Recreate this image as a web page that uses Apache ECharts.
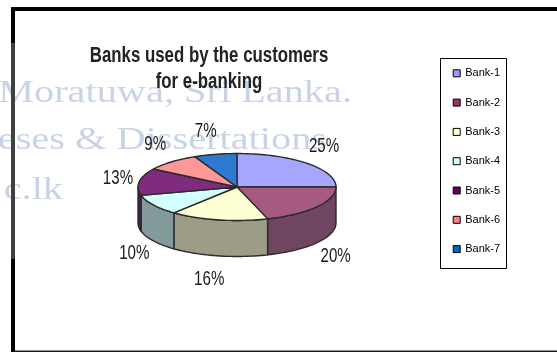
<!DOCTYPE html>
<html>
<head>
<meta charset="utf-8">
<script src="https://cdn.jsdelivr.net/npm/echarts@6/dist/echarts.min.js"></script>
<style>
  html, body { margin: 0; padding: 0; background: #ffffff; }
  #chart { width: 557px; height: 352px; }
</style>
</head>
<body>
<div id="chart"></div>
<script>
// Survey result: share of customers using each bank for e-banking (%)
const banks = ['Bank-1', 'Bank-2', 'Bank-3', 'Bank-4', 'Bank-5', 'Bank-6', 'Bank-7'];
const shares = [25, 20, 16, 10, 13, 9, 7];
const titleLines = ['Banks used by the customers', 'for e-banking'];
const watermarkLines = ['Moratuwa, Sri Lanka.', 'eses & Dissertations', 'c.lk'];

// Palette: flat legend swatches, lit top faces, shaded front walls
const legendColors = ['#9999FF', '#993366', '#FFFFCC', '#CCFFFF', '#660066', '#FF8080', '#0066CC'];
const topColors    = ['#A6A6FF', '#A65A82', '#FFFFD4', '#D4FFFF', '#7F2C80', '#FF9898', '#2E7AD0'];
const sideColors   = ['#6A6AB0', '#6F455F', '#9D9D87', '#839A9A', '#4F1C50', '#B06060', '#1E508A'];

const FONT = "'Liberation Sans',Arial,sans-serif";
const EDGE = '#2b2b2b';
// the chart lettering is a condensed sans
const CONDENSE = 0.72;

// Tilted pie: centre, ellipse radii, wall depth, label placement
const PIE = { cx: 237, cy: 187, rx: 99, ry: 33.5, depth: 36, labelRx: 114, labelPad: 6.4, labelRy: 57 };

const total = shares.reduce((a, b) => a + b, 0);
const startAngles = [];
{
  let acc = 0;
  shares.forEach(v => { startAngles.push(90 - acc / total * 360); acc += v; });
}

function ellipsePoint(deg, dy) {
  const r = deg * Math.PI / 180;
  return [PIE.cx + PIE.rx * Math.cos(r), PIE.cy - PIE.ry * Math.sin(r) + dy];
}
function arcPoints(a0, a1, dy) {
  const n = Math.max(2, Math.ceil(Math.abs(a1 - a0) / 2));
  const pts = [];
  for (let k = 0; k <= n; k++) pts.push(ellipsePoint(a0 + (a1 - a0) * k / n, dy));
  return pts;
}

function sliceRenderer(i) {
  return function (params, api) {
    const v = api.value(0);
    const a0 = startAngles[i];
    const a1 = a0 - v / total * 360;
    const children = [];
    // front wall: the part of the slice facing the viewer (lower half)
    const s = Math.min(a0, 0), e = Math.max(a1, -180);
    if (s > e) {
      const pts = arcPoints(s, e, 0).concat(arcPoints(e, s, PIE.depth));
      children.push({
        type: 'polygon', shape: { points: pts },
        style: { fill: sideColors[i], stroke: EDGE, lineWidth: 1.4, lineJoin: 'round' }
      });
    }
    // top face
    const face = [[PIE.cx, PIE.cy]].concat(arcPoints(a0, a1, 0));
    children.push({
      type: 'polygon', shape: { points: face },
      style: { fill: topColors[i], stroke: EDGE, lineWidth: 1.4, lineJoin: 'round' }
    });
    // percentage label outside the slice
    const mid = (a0 + a1) / 2 * Math.PI / 180;
    const c = Math.cos(mid), sn = Math.sin(mid);
    const lx = PIE.cx + PIE.labelRx * c + PIE.labelPad * Math.sign(c);
    let ly = PIE.cy - PIE.labelRy * sn;
    if (sn < 0) ly += PIE.depth;
    children.push({
      type: 'text', x: lx, y: ly, scaleX: CONDENSE,
      style: { text: v + '%', font: '21px ' + FONT, fill: '#1a1a1a', align: 'center', verticalAlign: 'middle' }
    });
    return { type: 'group', children };
  };
}

const series = banks.map((name, i) => ({
  type: 'custom',
  name: name,
  coordinateSystem: 'none',
  color: legendColors[i],
  silent: true,
  data: [[shares[i]]],
  renderItem: sliceRenderer(i)
}));

// Two-line heading
const heading = titleLines.map((line, k) => ({
  type: 'text', x: 209, y: 56 + k * 26, scaleX: 0.765, z: 10, silent: true,
  style: { text: line, font: 'bold 22px ' + FONT, fill: '#222', align: 'center', verticalAlign: 'middle' }
}));

// Faint watermark text behind the chart
const watermark = [
  { right: 352, base: 104 },
  { right: 327, base: 151 },
  { right: 63, base: 201 }
].map((p, k) => ({
  type: 'text', x: p.right, y: p.base - 10, scaleX: 1.26, z: -10, silent: true,
  style: {
    text: watermarkLines[k], font: "32px 'Liberation Serif','Times New Roman',serif",
    fill: '#C9D3E6', align: 'right', verticalAlign: 'middle'
  }
}));

const frame = [
  { type: 'rect', shape: { x: 11, y: 7, width: 546, height: 4 }, style: { fill: '#000' } },
  { type: 'rect', shape: { x: 11, y: 7, width: 4, height: 345 }, style: { fill: '#000' } },
  { type: 'rect', shape: { x: 11, y: 43, width: 4, height: 216 }, style: { fill: '#404040' } },
  { type: 'rect', shape: { x: 15, y: 350.5, width: 542, height: 1.5 }, style: { fill: '#1a1a1a' } },
  // legend frame
  { type: 'rect', shape: { x: 440.5, y: 58.5, width: 66, height: 210 }, style: { fill: 'none', stroke: '#000', lineWidth: 1 } }
].map(g => Object.assign({ silent: true, z: -5 }, g));

const chart = echarts.init(document.getElementById('chart'), null, { renderer: 'canvas' });
chart.setOption({
  animation: false,
  backgroundColor: '#ffffff',
  legend: {
    data: banks,
    orient: 'vertical',
    left: 452.7, top: 66.3, padding: 0,
    itemWidth: 7, itemHeight: 7, itemGap: 15.3,
    icon: 'rect',
    selectedMode: false,
    itemStyle: { borderColor: '#000', borderWidth: 1 },
    textStyle: { fontFamily: FONT, fontSize: 11, color: '#000', lineHeight: 14 }
  },
  graphic: { elements: watermark.concat(frame, heading) },
  series: series
});
</script>
</body>
</html>
